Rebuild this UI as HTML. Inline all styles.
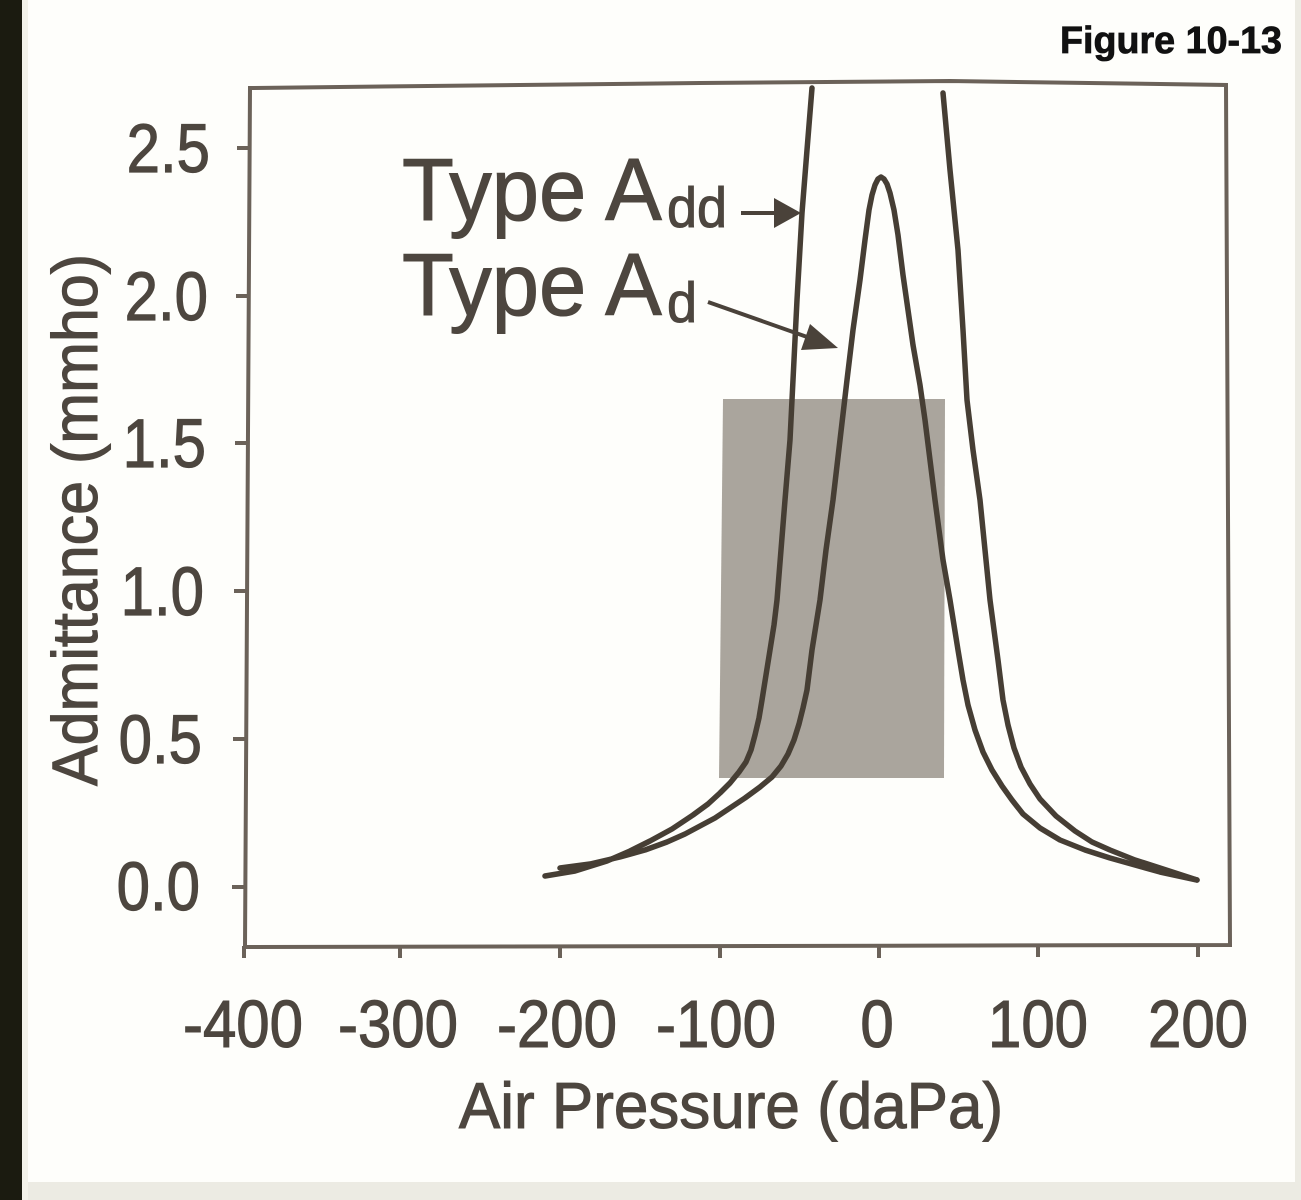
<!DOCTYPE html>
<html>
<head>
<meta charset="utf-8">
<style>
  html,body{margin:0;padding:0;background:#ecebe3;}
  body{width:1301px;height:1200px;overflow:hidden;position:relative;}
  svg{position:absolute;left:0;top:0;}
  text{font-family:"Liberation Sans", Arial, sans-serif;}
</style>
</head>
<body>
<svg width="1301" height="1200" viewBox="0 0 1301 1200" xmlns="http://www.w3.org/2000/svg">
  <!-- backgrounds -->
  <rect x="0" y="0" width="1301" height="1200" fill="#ecebe3"/>
  <rect x="22" y="0" width="1273" height="1182" fill="#fefefb"/>
  <rect x="22" y="0" width="6" height="1200" fill="#f3f2ea"/>
  <rect x="0" y="0" width="22" height="1200" fill="#1b1b10"/>

  <!-- figure label -->
  <text x="1060" y="53" font-size="38" font-weight="bold" fill="#111" stroke="#111" stroke-width="0.8" textLength="222" lengthAdjust="spacingAndGlyphs">Figure 10-13</text>

  <!-- gray box -->
  <polygon points="723,399 945,399 944,778 719,778" fill="#aaa59d"/>

  <!-- frame -->
  <polygon points="250,88 700,83 950,81 1226,85 1230,945 245,947" fill="none" stroke="#6b6259" stroke-width="4" stroke-linejoin="miter"/>

  <!-- y ticks -->
  <g stroke="#6b6259" stroke-width="4">
    <line x1="237" y1="148" x2="250" y2="148"/>
    <line x1="236" y1="296" x2="249" y2="296"/>
    <line x1="235" y1="443" x2="248" y2="443"/>
    <line x1="234" y1="591" x2="247" y2="591"/>
    <line x1="233" y1="739" x2="246" y2="739"/>
    <line x1="232" y1="887" x2="245" y2="887"/>
  </g>
  <!-- x ticks -->
  <g stroke="#6b6259" stroke-width="4">
    <line x1="244" y1="946" x2="244" y2="958"/>
    <line x1="400" y1="946" x2="400" y2="958"/>
    <line x1="560" y1="946" x2="560" y2="958"/>
    <line x1="720" y1="946" x2="720" y2="958"/>
    <line x1="879" y1="946" x2="879" y2="958"/>
    <line x1="1038" y1="945" x2="1038" y2="957"/>
    <line x1="1198" y1="945" x2="1198" y2="957"/>
  </g>

  <!-- y tick labels -->
  <g fill="#4d463f" stroke="#4d463f" stroke-width="1" font-size="60" text-anchor="end">
    <text transform="translate(210,172) scale(1,1.15)">2.5</text>
    <text transform="translate(208,320) scale(1,1.15)">2.0</text>
    <text transform="translate(206,467) scale(1,1.15)">1.5</text>
    <text transform="translate(204,615) scale(1,1.15)">1.0</text>
    <text transform="translate(202,763) scale(1,1.15)">0.5</text>
    <text transform="translate(200,910) scale(1,1.15)">0.0</text>
  </g>

  <!-- x tick labels -->
  <g fill="#4d463f" stroke="#4d463f" stroke-width="1" font-size="60" text-anchor="middle">
    <text transform="translate(243,1047) scale(1,1.12)">-400</text>
    <text transform="translate(398,1047) scale(1,1.12)">-300</text>
    <text transform="translate(557,1047) scale(1,1.12)">-200</text>
    <text transform="translate(716,1047) scale(1,1.12)">-100</text>
    <text transform="translate(877,1047) scale(1,1.12)">0</text>
    <text transform="translate(1038,1047) scale(1,1.12)">100</text>
    <text transform="translate(1198,1047) scale(1,1.12)">200</text>
  </g>

  <!-- axis titles -->
  <text fill="#4d463f" stroke="#4d463f" stroke-width="1" font-size="62" text-anchor="middle" transform="translate(731,1128) scale(1,1.05)">Air Pressure (daPa)</text>
  <text fill="#4d463f" stroke="#4d463f" stroke-width="1" font-size="61" text-anchor="middle" transform="translate(97,520) rotate(-90) scale(1,1.05)">Admittance (mmho)</text>

  <!-- curves -->
  <g fill="none" stroke="#463e34" stroke-width="5.5" stroke-linejoin="round" stroke-linecap="round">
    <!-- Type Add -->
    <polyline points="545,876 575,871 607,861 630,851 650,841 672,829 693,815 708,804 720,793 730,783 739,772 746,762 751,750 755,735 759,718 762,700 766,675 770,650 774,625 777,600 781,550 785,500 790,440 793,380 797,300 802,213 807,150 812,88"/>
    <polyline points="943,93 950,170 958,250 963,330 967,400 973,450 980,500 985,550 990,600 994,630 998,660 1003,700 1008,725 1014,748 1021,767 1030,784 1040,799 1056,816 1075,831 1092,842 1110,850 1135,860 1160,868 1197,880"/>
    <!-- Type Ad -->
    <polyline points="560,868 590,864 620,857 645,850 667,842 685,834 700,826 715,818 727,810 745,798 760,787 772,777 781,766 788,754 794,740 799,724 803,708 807,690 812,650 820,600 826,550 833,500 840,440 847,380 853,330 860,280 865,240 869,210 872,195 875,185 878,179 881,177 884,179 887,184 890,193 894,210 898,235 903,275 908,310 913,345 920,385 925,420 935,500 943,560 950,600 958,650 963,680 968,705 975,730 983,752 992,770 1002,786 1012,800 1023,814 1040,828 1060,840 1085,850 1110,858 1160,872 1197,880"/>
  </g>

  <!-- legend text -->
  <g fill="#4d463f" stroke="#4d463f" stroke-width="1">
    <text font-size="85" transform="translate(402,220) scale(1,1.04)">Type A</text>
    <text font-size="54" transform="translate(667,227) scale(1,1.05)">dd</text>
    <text font-size="85" transform="translate(402,315) scale(1,1.04)">Type A</text>
    <text font-size="54" transform="translate(667,322) scale(1,1.05)">d</text>
  </g>

  <!-- arrows -->
  <g stroke="#4a423a" stroke-width="4" fill="#4a423a">
    <line x1="741" y1="213" x2="778" y2="213"/>
    <polygon points="774,198 801,213 774,228" stroke="none"/>
    <line x1="708" y1="302" x2="810" y2="338"/>
    <polygon points="810,324 838,348 801,350" stroke="none"/>
  </g>
</svg>
</body>
</html>
